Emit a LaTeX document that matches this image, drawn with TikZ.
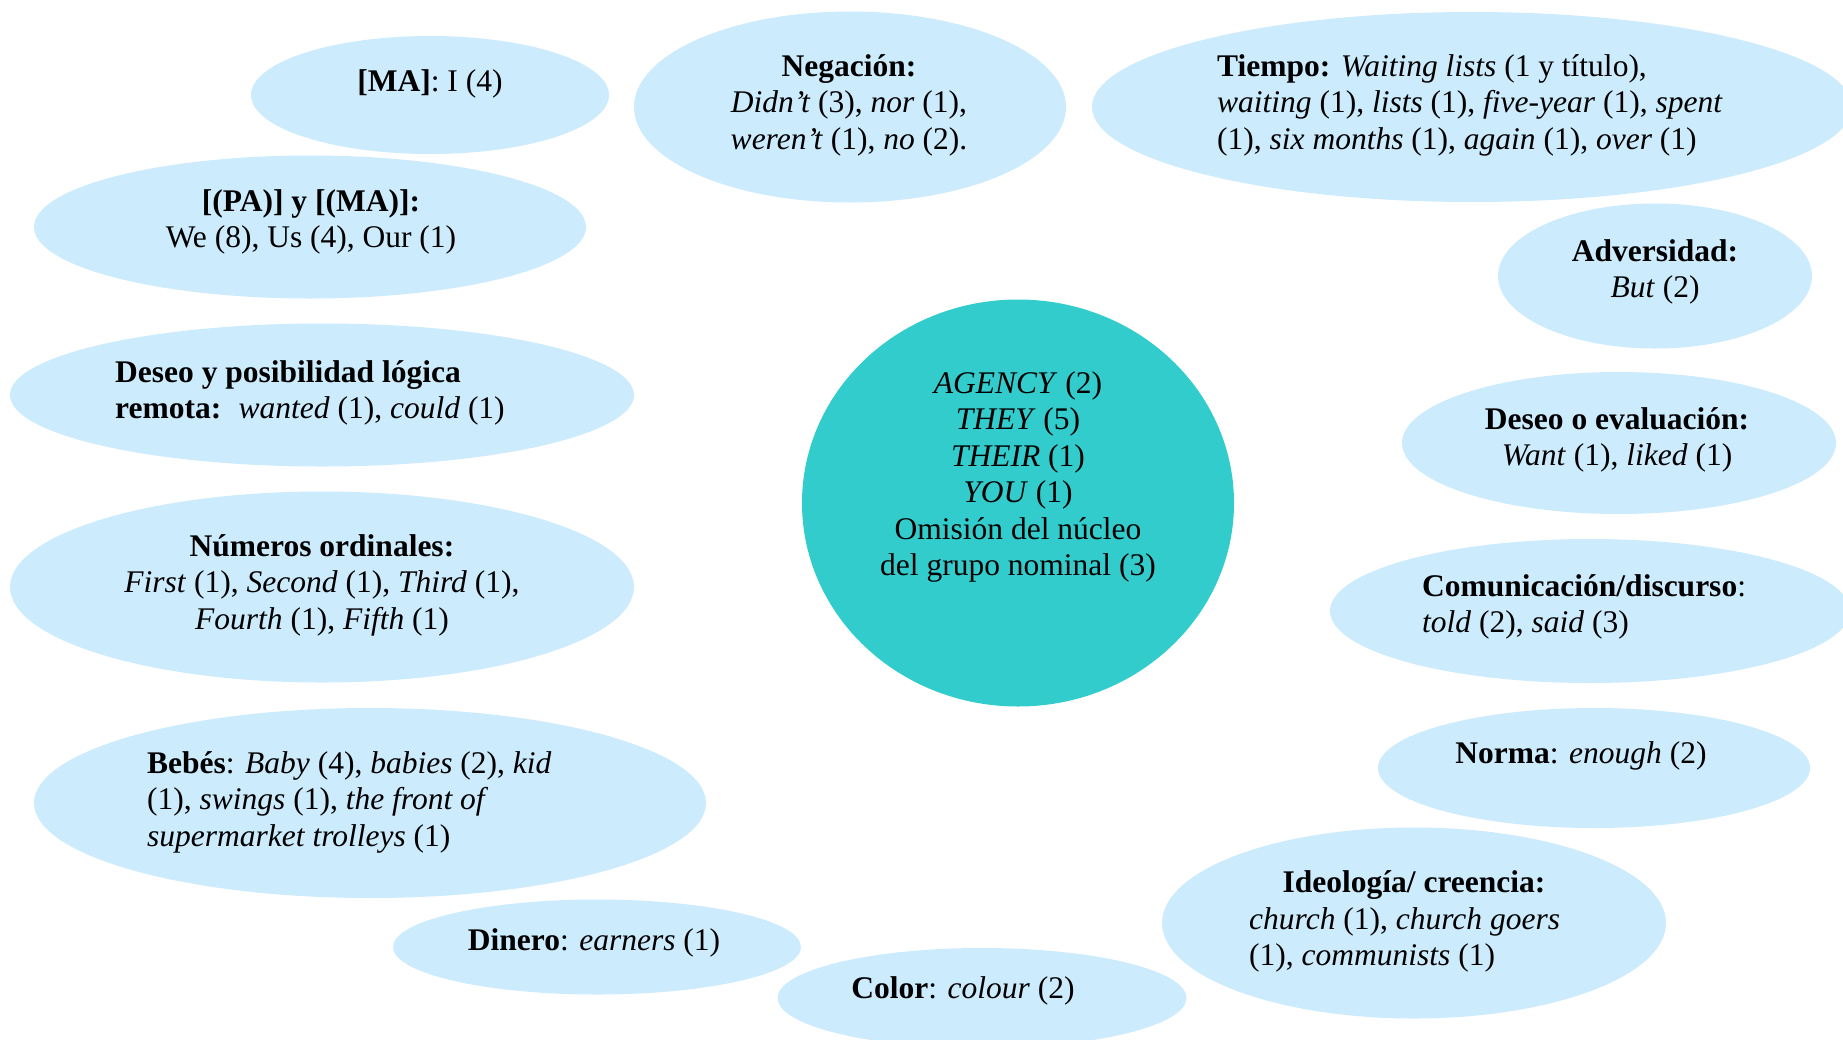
\documentclass[tikz,border=0pt]{standalone}
\usepackage{fontspec}
\setmainfont{Liberation Serif}
\usetikzlibrary{shapes.geometric}
\definecolor{bubbleblue}{RGB}{204,235,253}
\definecolor{coreteal}{RGB}{51,204,204}
\begin{document}
\begin{tikzpicture}[x=1bp,y=-1bp,
  bubble/.style 2 args={ellipse, fill=bubbleblue, draw=none, inner sep=0pt,
    minimum width=#1, minimum height=#2},
  core/.style 2 args={ellipse, fill=coreteal, draw=none, inner sep=0pt,
    minimum width=#1, minimum height=#2},
  txt/.style={inner sep=0pt, font=\fontsize{31.5bp}{36.5bp}\selectfont, align=center},
  ltxt/.style={txt, align=left, anchor=west}]
\useasboundingbox (0,0) rectangle (1843,1039);
\clip (0,0) rectangle (1843,1039);

% category bubbles
\node[bubble={358bp}{118bp}] (ma) at (430,95) {};
\node[bubble={552bp}{143bp}] (pama) at (310,227) {};
\node[bubble={432bp}{191bp}] (neg) at (850,107) {};
\node[bubble={760bp}{190bp}] (tiempo) at (1472,107) {};
\node[bubble={314bp}{145bp}] (adv) at (1655,276) {};
\node[bubble={434bp}{142bp}] (deseoev) at (1619,443) {};
\node[bubble={520bp}{144bp}] (comun) at (1590,611) {};
\node[bubble={432bp}{120bp}] (norma) at (1594,768) {};
\node[bubble={504bp}{191bp}] (ideo) at (1414,923) {};
\node[bubble={409bp}{100bp}] (color) at (982,998) {};
\node[bubble={408bp}{95bp}] (dinero) at (597,947) {};
\node[bubble={672bp}{190bp}] (bebes) at (370,803) {};
\node[bubble={624bp}{143bp}] (deseopos) at (322,395) {};
\node[bubble={624bp}{191bp}] (ordinal) at (322,587) {};

% central circle
\node[core={432bp}{407bp}] (agency) at (1018,503) {};

% texts
\node[txt] (ma-t) at (430,84) {\textbf{[MA]}: I (4)};
\node[txt] (pama-t) at (311,222) {\textbf{[(PA)] y [(MA)]:}\\We (8), Us (4), Our (1)};
\node[txt] (neg-t) at (849,105) {\textbf{Negación:}\\\textit{Didn’t} (3), \textit{nor} (1),\\\textit{weren’t} (1), \textit{no} (2).};
\node[ltxt] (tiempo-t) at (1217,105) {\textbf{Tiempo:} \textit{Waiting lists} (1 y título),\\\textit{waiting} (1), \textit{lists} (1), \textit{five-year} (1), \textit{spent}\\(1), \textit{six months} (1), \textit{again} (1), \textit{over} (1)};
\node[txt] (adv-t) at (1655,272) {\textbf{Adversidad:}\\\textit{But} (2)};
\node[txt] (deseoev-t) at (1617,440) {\textbf{Deseo o evaluación:}\\\textit{Want} (1), \textit{liked} (1)};
\node[ltxt] (comun-t) at (1422,607) {\textbf{Comunicación/discurso}:\\\textit{told} (2), \textit{said} (3)};
\node[txt] (norma-t) at (1581,756) {\textbf{Norma}: \textit{enough} (2)};
\node[txt] (ideo-t) at (1414,885) {\textbf{Ideología/ creencia:}};
\node[ltxt] (ideo-b) at (1249,940) {\textit{church} (1), \textit{church goers}\\(1), \textit{communists} (1)};
\node[txt] (color-t) at (963,991) {\textbf{Color}: \textit{colour} (2)};
\node[txt] (dinero-t) at (594,943) {\textbf{Dinero}: \textit{earners} (1)};
\node[ltxt] (bebes-t) at (147,802) {\textbf{Bebés}: \textit{Baby} (4), \textit{babies} (2), \textit{kid}\\(1), \textit{swings} (1), \textit{the front of}\\\textit{supermarket trolleys} (1)};
\node[ltxt] (deseopos-t) at (115,393) {\textbf{Deseo y posibilidad lógica}\\\textbf{remota:}\hspace{0.55em}\textit{wanted} (1), \textit{could} (1)};
\node[txt] (ordinal-t) at (322,585) {\textbf{Números ordinales:}\\\textit{First} (1), \textit{Second} (1), \textit{Third} (1),\\\textit{Fourth} (1), \textit{Fifth} (1)};
\node[txt] (agency-t) at (1018,477) {\textit{AGENCY} (2)\\\textit{THEY} (5)\\\textit{THEIR} (1)\\\textit{YOU} (1)\\Omisión del núcleo\\del grupo nominal (3)};
\end{tikzpicture}
\end{document}
